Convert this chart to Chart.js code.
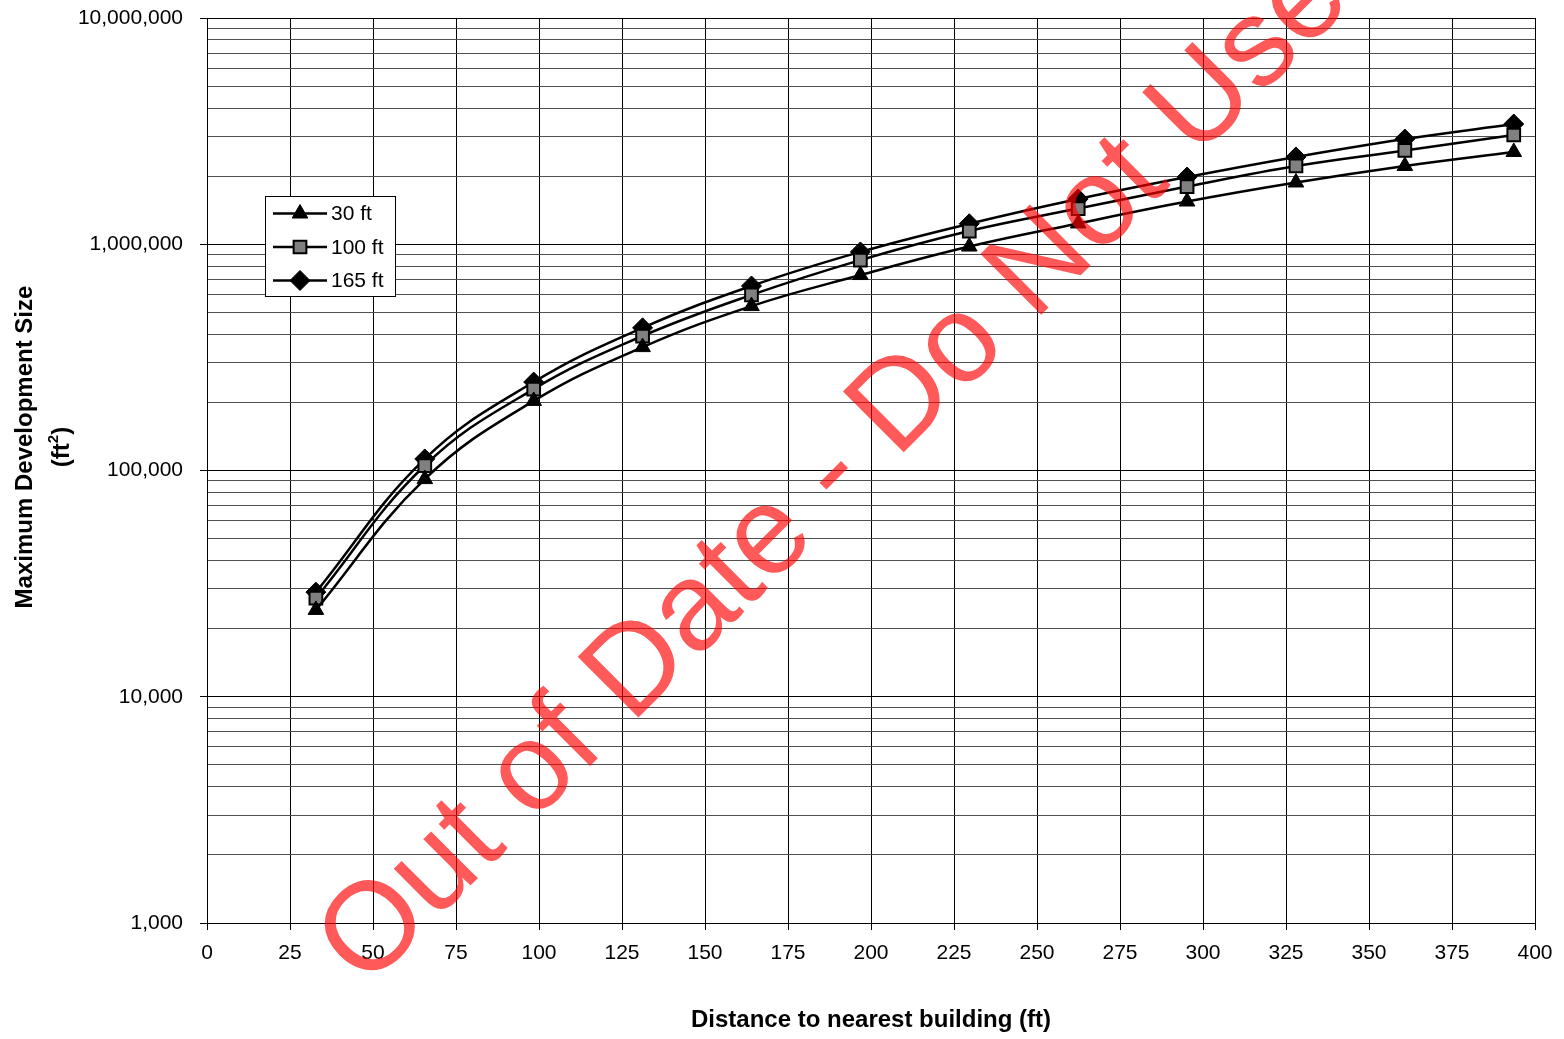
<!DOCTYPE html>
<html>
<head>
<meta charset="utf-8">
<script src="https://cdn.jsdelivr.net/npm/chart.js@4.4.1/dist/chart.umd.min.js"></script>
<style>
  html, body { margin: 0; padding: 0; background: #fff; }
  #wrap { width: 1564px; height: 1039px; position: relative; }
</style>
</head>
<body>
<div id="wrap"><canvas id="grafica"></canvas></div>
<script>
// Distancia al edificio más cercano (ft) - pasos de 10 m
const distances = [32.8, 65.6, 98.4, 131.2, 164, 196.8, 229.6, 262.4, 295.2, 328, 360.8, 393.6];

// Tamaño máximo de desarrollo (ft2) por serie
const size30 = [24200, 91600, 203000, 351000, 533000, 731000, 977000, 1236000, 1545000, 1875000, 2218000, 2557000];
const size100 = [27300, 105200, 229000, 393000, 597000, 851000, 1144000, 1438000, 1799000, 2218000, 2597000, 3040000];
const size165 = [29000, 112500, 246000, 427000, 654000, 925000, 1232000, 1585000, 1982000, 2432000, 2918000, 3399000];

const seriesLabels = ['30 ft', '100 ft', '165 ft'];

// Ticks
const yMajorTicks = [1000, 10000, 100000, 1000000, 10000000];
const xTickStep = 25;

const FONT = '"Liberation Sans", Arial, Helvetica, sans-serif';
const WATERMARK = 'Out of Date - Do Not Use';
const Y_TITLE = 'Maximum Development Size';

// todas las líneas de la rejilla log: 1..9 x 10^n
const yAllTicks = [];
yMajorTicks.forEach((v, i) => {
  if (i === yMajorTicks.length - 1) { yAllTicks.push(v); return; }
  for (let m = 1; m <= 9; m++) yAllTicks.push(m * v);
});

const toPoints = vals => vals.map((v, i) => ({ x: distances[i], y: v }));
const isMajor = v => yMajorTicks.includes(v);

// título del eje Y con superíndice (ft²)
const yTitle = {
  id: 'yTitle',
  afterDraw(chart) {
    const ctx = chart.ctx;
    ctx.save();
    ctx.fillStyle = '#000';
    ctx.textBaseline = 'middle';
    ctx.translate(25, 447);
    ctx.rotate(-Math.PI / 2);
    ctx.font = 'bold 24px ' + FONT;
    ctx.textAlign = 'center';
    ctx.fillText(Y_TITLE, 0, 0);
    // segunda línea: "(ft" + "2" + ")"
    const a = '(ft', b = '2', c = ')';
    ctx.font = 'bold 24px ' + FONT;
    const wa = ctx.measureText(a).width, wc = ctx.measureText(c).width;
    ctx.font = 'bold 15px ' + FONT;
    const wb = ctx.measureText(b).width;
    let x = -(wa + wb + wc) / 2;
    const y = 37;
    ctx.textAlign = 'left';
    ctx.font = 'bold 24px ' + FONT;
    ctx.fillText(a, x, y);
    x += wa;
    ctx.font = 'bold 15px ' + FONT;
    ctx.fillText(b, x, y - 8);
    x += wb;
    ctx.font = 'bold 24px ' + FONT;
    ctx.fillText(c, x, y);
    ctx.restore();
  }
};

const boxLegend = {
  id: 'boxLegend',
  afterDatasetsDraw(chart) {
    const ctx = chart.ctx;
    ctx.save();
    ctx.fillStyle = '#fff';
    ctx.fillRect(265.5, 196.5, 130, 100);
    ctx.strokeStyle = '#000';
    ctx.lineWidth = 1;
    ctx.strokeRect(265.5, 196.5, 130, 100);
    chart.data.datasets.forEach((ds, i) => {
      const y = 213.5 + i * 33.5;
      ctx.strokeStyle = '#000';
      ctx.lineWidth = 2.5;
      ctx.beginPath();
      ctx.moveTo(273, y);
      ctx.lineTo(327, y);
      ctx.stroke();
      ctx.fillStyle = ds.pointBackgroundColor;
      ctx.strokeStyle = ds.pointBorderColor;
      ctx.lineWidth = ds.pointBorderWidth;
      Chart.helpers.drawPoint(ctx, {
        pointStyle: ds.pointStyle, radius: ds.pointRadius, rotation: 0, borderWidth: ds.pointBorderWidth
      }, 300, y);
      ctx.fillStyle = '#000';
      ctx.font = '21px ' + FONT;
      ctx.textAlign = 'left';
      ctx.textBaseline = 'middle';
      ctx.fillText(ds.label, 331, y + 1);
    });
    ctx.restore();
  }
};

const watermark = {
  id: 'watermark',
  afterDraw(chart) {
    const ctx = chart.ctx;
    ctx.save();
    ctx.translate(366, 990);
    ctx.rotate(-Math.PI / 4);
    ctx.font = '125px ' + FONT;
    ctx.fillStyle = 'rgba(255, 0, 0, 0.65)';
    ctx.textAlign = 'left';
    ctx.textBaseline = 'alphabetic';
    ctx.fillText(WATERMARK, 0, 0);
    ctx.restore();
  }
};

const $grafica = document.querySelector('#grafica');

new Chart($grafica, {
  type: 'line',
  data: {
    datasets: [
      {
        label: seriesLabels[0], data: toPoints(size30),
        borderColor: '#000', borderWidth: 2.5, tension: 0.4, fill: false,
        pointStyle: 'triangle', pointRadius: 9, pointBackgroundColor: '#000',
        pointBorderColor: '#000', pointBorderWidth: 1
      },
      {
        label: seriesLabels[1], data: toPoints(size100),
        borderColor: '#000', borderWidth: 2.5, tension: 0.4, fill: false,
        pointStyle: 'rect', pointRadius: 9, pointBackgroundColor: '#808080',
        pointBorderColor: '#000', pointBorderWidth: 2
      },
      {
        label: seriesLabels[2], data: toPoints(size165),
        borderColor: '#000', borderWidth: 2.5, tension: 0.4, fill: false,
        pointStyle: 'rectRot', pointRadius: 10, pointBackgroundColor: '#000',
        pointBorderColor: '#000', pointBorderWidth: 1
      }
    ]
  },
  options: {
    responsive: true,
    maintainAspectRatio: false,
    animation: false,
    layout: { padding: { top: 18, right: 29, bottom: 0, left: 0 } },
    plugins: { legend: { display: false }, tooltip: { enabled: false } },
    scales: {
      x: {
        type: 'linear', position: 'bottom', min: 0, max: 400,
        afterFit(s) { s.height = 116; },
        border: { color: '#000', width: 1 },
        grid: { color: '#000', lineWidth: 1, tickLength: 7, tickColor: '#000' },
        ticks: {
          stepSize: xTickStep, autoSkip: false, maxRotation: 0, padding: 11,
          color: '#000', font: { size: 21, family: FONT }
        },
        title: {
          display: true, text: 'Distance to nearest building (ft)', color: '#000',
          font: { size: 24, weight: 'bold', family: FONT }, padding: { top: 0, bottom: 4 }
        }
      },
      y: {
        type: 'logarithmic', position: 'left', min: 1000, max: 10000000,
        afterFit(s) { s.width = 207; s.paddingTop = 0; s.paddingBottom = 0; },
        afterBuildTicks(s) { s.ticks = yAllTicks.map(v => ({ value: v, major: isMajor(v) })); },
        border: { color: '#000', width: 1 },
        grid: {
          lineWidth: 1, tickLength: 7,
          color: c => (c.tick && isMajor(c.tick.value)) ? '#000' : '#505050',
          tickColor: c => (c.tick && isMajor(c.tick.value)) ? '#000' : 'rgba(0,0,0,0)'
        },
        ticks: {
          autoSkip: false, padding: 17, color: '#000', font: { size: 21, family: FONT },
          callback: v => isMajor(v) ? v.toLocaleString('en-US') : ''
        },
        title: { display: false }
      }
    }
  },
  plugins: [boxLegend, yTitle, watermark]
});
</script>
</body>
</html>
